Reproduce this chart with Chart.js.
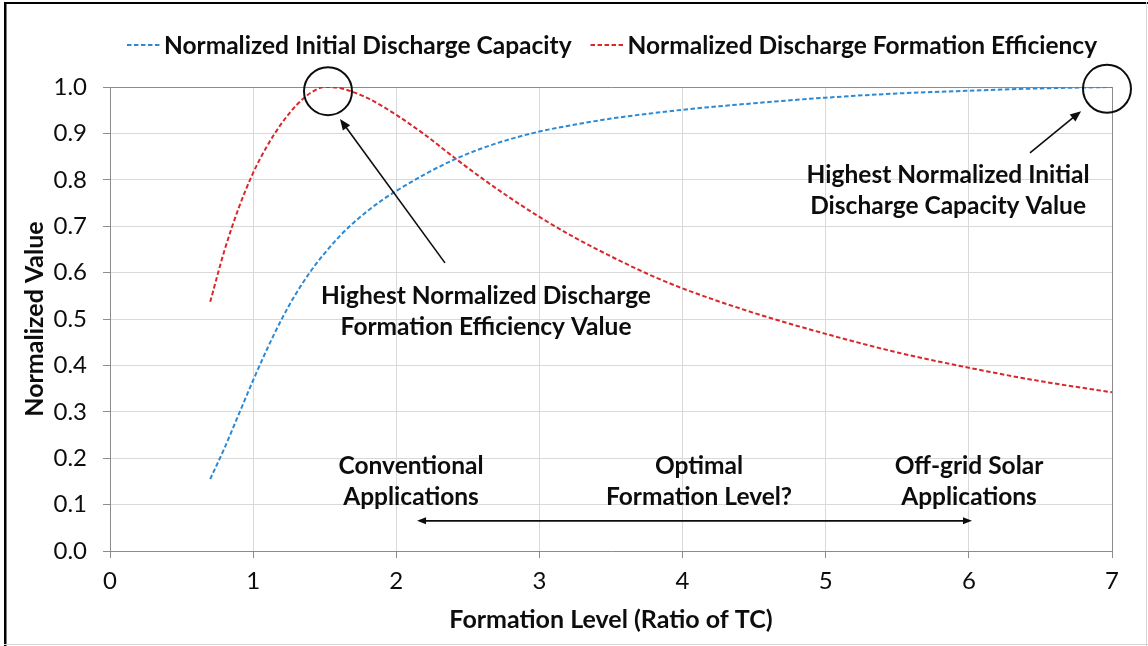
<!DOCTYPE html>
<html>
<head>
<meta charset="utf-8">
<script src="https://cdn.jsdelivr.net/npm/chart.js@4/dist/chart.umd.min.js"></script>
<style>
  html, body { margin: 0; padding: 0; background: #ffffff; }
  #wrap { width: 1148px; height: 646px; position: relative; }
  canvas { display: block; }
</style>
</head>
<body>
<div id="wrap"><canvas id="chart" width="1148" height="646"></canvas></div>
<script>
// Formation level (ratio of TC) at which each curve was sampled
const formationLevel = [0.7, 0.8, 0.9, 1.0, 1.1, 1.2, 1.3, 1.4, 1.5, 1.6, 1.7, 1.8, 1.9, 2.0,
  2.2, 2.4, 2.6, 2.8, 3.0, 3.25, 3.5, 3.75, 4.0, 4.5, 5.0, 5.5, 6.0, 6.5, 7.0];

// Normalized initial discharge capacity
const initialCapacity = [0.155, 0.222, 0.295, 0.368, 0.437, 0.5, 0.555, 0.602, 0.642, 0.677, 0.707,
  0.733, 0.756, 0.776, 0.812, 0.843, 0.868, 0.888, 0.904, 0.919, 0.932, 0.942, 0.951,
  0.965, 0.977, 0.986, 0.992, 0.997, 1.0];

// Normalized discharge formation efficiency
const formationEfficiency = [0.537, 0.648, 0.74, 0.815, 0.874, 0.922, 0.96, 0.987, 1.0, 0.998, 0.989,
  0.976, 0.959, 0.94, 0.897, 0.849, 0.803, 0.76, 0.72, 0.675, 0.635, 0.598, 0.566,
  0.513, 0.468, 0.428, 0.395, 0.366, 0.342];

const seriesNames = ['Normalized Initial Discharge Capacity', 'Normalized Discharge Formation Efficiency'];
const xTickValues = [0, 1, 2, 3, 4, 5, 6, 7];
const yTickValues = [0.0, 0.1, 0.2, 0.3, 0.4, 0.5, 0.6, 0.7, 0.8, 0.9, 1.0];

const FONT = 'Lato';
const AXIS_DARK = '#8c8c8c';
const GRID_LIGHT = '#d9d9d9';
const INK = '#0d0d0d';

const toPoints = (ys) => formationLevel.map((x, i) => ({ x: x, y: ys[i] }));

// Callouts placed in data coordinates
const callouts = {
  rings: [
    { x: 1.523, y: 0.991, r: 24 },
    { x: 6.965, y: 0.996, r: 24 }
  ],
  arrows: [
    { from: [2.34, 0.621], to: [1.607, 0.931] },
    { from: [6.427, 0.858], to: [6.784, 0.948] }
  ],
  span: { from: 2.145, to: 6.022, y: 0.065 },
  labels: [
    { x: 2.627, y: 0.55, lines: ['Highest Normalized Discharge', 'Formation Efficiency Value'] },
    { x: 5.855, y: 0.81, lines: ['Highest Normalized Initial', 'Discharge Capacity Value'] },
    { x: 2.103, y: 0.183, lines: ['Conventional', 'Applications'] },
    { x: 4.115, y: 0.183, lines: ['Optimal', 'Formation Level?'] },
    { x: 6.001, y: 0.183, lines: ['Off-grid Solar', 'Applications'] }
  ]
};

function arrowHead(ctx, x1, y1, x2, y2, len, half) {
  const a = Math.atan2(y2 - y1, x2 - x1);
  ctx.beginPath();
  ctx.moveTo(x2, y2);
  ctx.lineTo(x2 - len * Math.cos(a) + half * Math.sin(a), y2 - len * Math.sin(a) - half * Math.cos(a));
  ctx.lineTo(x2 - len * Math.cos(a) - half * Math.sin(a), y2 - len * Math.sin(a) + half * Math.cos(a));
  ctx.closePath();
  ctx.fill();
}

const decorations = {
  id: 'decorations',
  beforeDraw(chart) {
    const ctx = chart.ctx;
    ctx.save();
    ctx.fillStyle = '#ffffff';
    ctx.fillRect(0, 0, chart.width, chart.height);
    ctx.restore();
  },
  afterDatasetsDraw(chart) {
    const ctx = chart.ctx;
    const xs = chart.scales.x, ys = chart.scales.y;
    const px = (v) => xs.getPixelForValue(v);
    const py = (v) => ys.getPixelForValue(v);
    ctx.save();
    ctx.strokeStyle = INK;
    ctx.fillStyle = INK;

    // rings around the maxima
    ctx.lineWidth = 2;
    callouts.rings.forEach(r => {
      ctx.beginPath();
      ctx.arc(px(r.x), py(r.y), r.r, 0, Math.PI * 2);
      ctx.stroke();
    });

    // pointer arrows
    ctx.lineWidth = 1.6;
    callouts.arrows.forEach(a => {
      const x1 = px(a.from[0]), y1 = py(a.from[1]);
      const x2 = px(a.to[0]), y2 = py(a.to[1]);
      const ang = Math.atan2(y2 - y1, x2 - x1);
      ctx.beginPath();
      ctx.moveTo(x1, y1);
      ctx.lineTo(x2 - 8 * Math.cos(ang), y2 - 8 * Math.sin(ang));
      ctx.stroke();
      arrowHead(ctx, x1, y1, x2, y2, 11, 4.5);
    });

    // double-headed range arrow
    const sx1 = px(callouts.span.from), sx2 = px(callouts.span.to), sy = py(callouts.span.y);
    ctx.lineWidth = 1.8;
    ctx.beginPath();
    ctx.moveTo(sx1 + 6, sy);
    ctx.lineTo(sx2 - 6, sy);
    ctx.stroke();
    arrowHead(ctx, sx2, sy, sx1, sy, 9, 3.5);
    arrowHead(ctx, sx1, sy, sx2, sy, 9, 3.5);

    // callout text
    ctx.font = 'bold 24.5px ' + FONT;
    ctx.textAlign = 'center';
    ctx.textBaseline = 'middle';
    callouts.labels.forEach(l => {
      l.lines.forEach((t, i) => ctx.fillText(t, px(l.x), py(l.y) + i * 31));
    });
    ctx.restore();
  },
  afterDraw(chart) {
    const ctx = chart.ctx;
    ctx.save();
    // legend across the top
    ctx.font = 'bold 24.5px ' + FONT;
    ctx.textBaseline = 'middle';
    ctx.textAlign = 'left';
    const sample = 34, gapIn = 3, gapOut = 19;
    const items = chart.data.datasets.map(d => ({ d, w: ctx.measureText(d.label).width }));
    const total = items.reduce((s, it) => s + sample + gapIn + it.w, 0) + gapOut * (items.length - 1);
    let x = 612 - total / 2;
    const y = 45;
    items.forEach(it => {
      ctx.strokeStyle = it.d.borderColor;
      ctx.lineWidth = 2;
      ctx.setLineDash(it.d.borderDash);
      ctx.beginPath();
      ctx.moveTo(x, y);
      ctx.lineTo(x + sample, y);
      ctx.stroke();
      ctx.setLineDash([]);
      ctx.fillStyle = INK;
      ctx.fillText(it.d.label, x + sample + gapIn, y + 1);
      x += sample + gapIn + it.w + gapOut;
    });

    // outer frame
    ctx.fillStyle = '#000000';
    ctx.fillRect(4, 2, 2.5, chart.height - 2);
    ctx.fillRect(4, 2, chart.width - 4, 2);
    ctx.fillStyle = '#d6d6d6';
    ctx.fillRect(chart.width - 2, 2, 1, chart.height - 2);
    ctx.fillRect(4, chart.height - 2, chart.width - 4, 1);
    ctx.restore();
  }
};

const near = (a, b) => Math.abs(a - b) < 1e-6;

new Chart(document.getElementById('chart'), {
  type: 'line',
  data: {
    datasets: [
      {
        label: seriesNames[0],
        data: toPoints(initialCapacity),
        borderColor: '#2b8ad6',
        borderWidth: 2,
        borderDash: [4.5, 2.5],
        pointRadius: 0,
        fill: false,
        cubicInterpolationMode: 'monotone'
      },
      {
        label: seriesNames[1],
        data: toPoints(formationEfficiency),
        borderColor: '#d9282c',
        borderWidth: 2,
        borderDash: [4.5, 2.5],
        pointRadius: 0,
        fill: false,
        cubicInterpolationMode: 'monotone'
      }
    ]
  },
  options: {
    responsive: false,
    animation: false,
    devicePixelRatio: 1,
    layout: { padding: { left: 10, right: 36, top: 87, bottom: 0 } },
    plugins: {
      legend: { display: false },
      tooltip: { enabled: false }
    },
    scales: {
      x: {
        type: 'linear',
        min: 0,
        max: 7,
        afterFit: (s) => { s.height = 95; },
        afterBuildTicks: (s) => { s.ticks = xTickValues.map(v => ({ value: v })); },
        ticks: {
          font: { family: FONT, size: 24 },
          color: INK,
          padding: 9,
          callback: (v) => String(v)
        },
        grid: {
          color: (c) => (c.tick && near(c.tick.value, 7)) ? AXIS_DARK : GRID_LIGHT,
          tickColor: AXIS_DARK,
          tickLength: 7,
          lineWidth: 1
        },
        border: { display: true, color: AXIS_DARK, width: 1 },
        title: {
          display: true,
          text: 'Formation Level (Ratio of TC)',
          font: { family: FONT, size: 25, weight: 'bold' },
          color: INK,
          padding: { top: 0, bottom: 11 }
        }
      },
      y: {
        type: 'linear',
        min: 0,
        max: 1,
        afterFit: (s) => { s.width = 100; },
        afterBuildTicks: (s) => { s.ticks = yTickValues.map(v => ({ value: v })); },
        ticks: {
          font: { family: FONT, size: 24 },
          color: INK,
          padding: 16,
          callback: (v) => Number(v).toFixed(1)
        },
        grid: {
          color: (c) => (c.tick && near(c.tick.value, 1)) ? AXIS_DARK : GRID_LIGHT,
          tickColor: AXIS_DARK,
          tickLength: 7,
          lineWidth: 1
        },
        border: { display: true, color: AXIS_DARK, width: 1 },
        title: {
          display: true,
          text: 'Normalized Value',
          font: { family: FONT, size: 25, weight: 'bold' },
          color: INK,
          padding: { top: 10, bottom: 0 }
        }
      }
    }
  },
  plugins: [decorations]
});
</script>
</body>
</html>
